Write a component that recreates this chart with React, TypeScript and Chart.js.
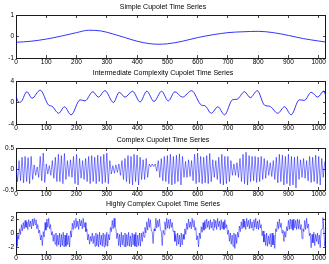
import React, { useEffect, useRef } from 'react';
import { Chart, registerables } from 'chart.js';

Chart.register(...registerables);

// ---------- shared axis values ----------
const xTicks = [0, 100, 200, 300, 400, 500, 600, 700, 800, 900, 1000];
const xMax = 1024;

// ---------- 1. Simple cupolet ----------
const simpleTitle = 'Simple Cupolet Time Series';
const simpleX = [0, 50, 100, 150, 200, 240, 280, 320, 360, 400, 440, 470, 500, 550, 600, 650, 700, 750, 800, 850, 900, 950, 1000, 1024];
const simpleY = [-0.27, -0.22, -0.12, 0.02, 0.18, 0.29, 0.26, 0.12, -0.05, -0.22, -0.33, -0.36, -0.34, -0.22, -0.05, 0.08, 0.18, 0.22, 0.24, 0.18, 0.05, -0.1, -0.21, -0.26];
const simpleYTicks = [-1, 0, 1];

// ---------- 2. Intermediate complexity ----------
const interTitle = 'Intermediate Complexity Cupolet Time Series';
const interX = [0, 6, 12, 18, 36, 53, 80, 108, 119, 141,
  160, 182, 212, 228, 254, 272, 294, 322, 341, 360,
  385, 410, 432, 456, 481, 503, 525, 550, 580, 613,
  624, 645, 667, 689, 715, 730, 755, 774, 797, 821,
  838, 865, 887, 909, 936, 953, 975, 997, 1016, 1024];
const interY = [1.2, 0.3, 0.05, 0.2, 2.0, 0.8, 2.3, -0.5, -0.7, -2.0,
  -0.8, -2.3, 0.5, 0.3, 2.0, 1.0, 2.2, 0.0, 1.9, 1.0,
  2.1, 0.1, 2.1, 0.2, 2.1, 0.3, 2.0, 1.0, 2.2, -0.5,
  -0.6, -2.0, -0.8, -2.3, 0.5, 0.6, 2.0, 0.9, 2.2, -0.5,
  -0.7, -2.0, -0.8, -2.3, 0.5, 0.4, 1.9, 1.0, 2.1, 1.3];
const interYTicks = [-4, -2, 0, 2, 4];

// ---------- 3. Complex ----------
const complexTitle = 'Complex Cupolet Time Series';
const complexStep = 5; // time units between samples
const complexY = [
  0.05, -0.3, 0.2, -0.28, 0.28, -0.33, 0.3, -0.3, 0.27, -0.35, 0.3, -0.25, 0.1, -0.15, 0.05, -0.2, 0.3, -0.28, 0.38, -0.32,
  0.12, -0.12, 0.08, -0.15, 0.2, -0.22, 0.28, -0.3, 0.35, -0.3, 0.32, -0.35, 0.37, -0.25, 0.2, -0.18, 0.22, -0.2, 0.3, -0.35,
  0.35, -0.38, 0.25, -0.22, 0.2, -0.25, 0.25, -0.3, 0.3, -0.35, 0.32, -0.3, 0.28, -0.35, 0.33, -0.3, 0.3, -0.35, 0.35, -0.32,
  0.38, -0.35, 0.2, -0.12, 0.08, -0.1, 0.1, -0.08, 0.12, -0.15, 0.2, -0.25, 0.25, -0.3, 0.32, -0.35, 0.3, -0.38, 0.35, -0.3,
  0.33, -0.38, 0.28, -0.25, 0.22, -0.25, 0.25, -0.2, 0.12, 0.05, 0.12, 0.06, 0.12, -0.05, 0.2, -0.2, 0.25, -0.28, 0.3, -0.3,
  0.32, -0.35, 0.35, -0.38, 0.3, -0.35, 0.33, -0.3, 0.36, -0.38, 0.3, -0.2, 0.18, -0.2, 0.22, -0.18, 0.2, -0.28, 0.35, -0.35,
  0.38, -0.32, 0.3, -0.35, 0.28, -0.33, 0.32, -0.35, 0.37, -0.3, 0.22, -0.2, 0.2, -0.25, 0.28, -0.35, 0.35, -0.38, 0.3, -0.35,
  0.3, -0.3, 0.2, -0.15, 0.12, -0.15, 0.15, -0.2, 0.25, -0.3, 0.35, -0.35, 0.4, -0.38, 0.32, -0.3, 0.3, -0.28, 0.3, -0.32,
  0.28, -0.3, 0.3, -0.25, 0.25, -0.22, 0.2, -0.15, 0.15, -0.18, 0.2, -0.25, 0.28, -0.33, 0.35, -0.3, 0.33, -0.38, 0.3, -0.35,
  0.35, -0.4, 0.3, -0.38, 0.28, -0.45, 0.3, -0.25, 0.22, -0.2, 0.25, -0.22, 0.2, -0.28, 0.3, -0.32, 0.28, -0.3, 0.33, -0.35,
  0.3, -0.38, 0.25, -0.2, 0.18,
];
const complexYTicks = [-0.5, 0, 0.5];

// ---------- 4. Highly complex ----------
const highTitle = 'Highly Complex Cupolet Time Series';
const highStep = 3; // time units between samples
const highY = [
  -0.5, -1.9, -0.2, -0.9, 0.6, -0.2, 1.2, 0.3, 1.5, 0.6,
  1.8, 0.8, 1.6, 0.5, 1.9, 0.9, 1.7, 0.6, 2.0, 1.0,
  2.1, 1.2, 1.9, 0.6, 1.2, 0.0, 0.4, -1.0, -0.3, -1.8,
  0.2, -0.6, 1.5, 0.4, 2.0, 0.8, 2.1, 0.6, 1.2, -0.3,
  0.2, -1.2, -0.2, -1.6, 0.0, -1.9, -0.3, -1.7, 0.0, -2.0,
  -0.2, -1.8, 0.1, -2.0, -0.3, -1.9, 0.0, -1.7, -0.4, -2.0,
  0.3, -0.6, 1.4, 0.5, 1.8, 0.7, 2.1, 0.9, 1.7, 0.5,
  2.0, 1.0, 1.8, 0.6, 2.1, 0.8, 1.5, 0.2, 0.6, -1.0,
  -0.2, -1.6, -0.5, -1.2, 0.0, -1.5, -0.4, -1.9, 0.0, -1.8,
  -0.2, -2.0, 0.1, -1.7, -0.3, -1.9, 0.0, -2.0, -0.2, -1.8,
  0.1, -1.9, -0.2, -1.0, 0.8, 0.2, 1.8, 0.6, 2.1, 0.8,
  0.6, -0.8, 0.0, -1.8, -0.2, -2.0, 0.1, -1.7, -0.3, -1.9,
  0.0, -2.0, -0.2, -1.8, 0.1, -1.9, -0.4, -2.0, 0.0, -1.7,
  -0.2, -1.9, 0.1, -2.0, -0.3, -1.8, 0.0, -1.9, 0.0, -1.2,
  0.2, -0.6, 0.8, 0.0, 1.6, 0.4, 2.1, 0.8, 1.9, 0.3,
  0.2, -1.5, 0.6, 0.3, 2.1, 0.7, 1.8, 0.9, 2.0, 0.5,
  0.2, -1.8, 0.4, -0.2, 1.6, 0.5, 2.1, 0.7, 1.9, 0.6,
  2.0, 0.8, 1.5, 0.2, 0.3, -1.2, -0.2, -1.8, 0.0, -1.6,
  -0.3, -2.0, 0.0, -1.7, -0.2, -0.9, 0.6, -0.2, 1.4, 0.5,
  2.0, 0.8, 1.6, 0.6, 2.1, 0.9, 1.8, 0.4, 0.8, -1.0,
  -0.4, -2.0, 0.0, -0.8, 0.9, 0.1, 1.5, 0.4, 1.8, 0.6,
  2.0, 0.8, 1.7, 0.5, 1.9, 0.7, 1.6, 0.4, 2.0, 0.8,
  1.8, 0.5, 2.1, 0.9, 1.7, 0.4, 1.9, 0.6, 1.6, 0.5,
  1.9, 0.7, 1.2, -0.2, 0.4, -1.2, 0.0, -1.6, -0.3, -1.9,
  0.0, -2.2, -0.2, -1.5, 0.1, -0.6, 1.0, 0.2, 1.6, 0.6,
  2.0, 0.8, 1.7, 0.5, 2.1, 0.9, 1.8, 0.6, 2.0, 0.7,
  1.6, 0.4, 1.9, 0.8, 2.1, 0.6, 1.7, 0.5, 1.9, 0.7,
  1.2, -0.4, 0.3, -1.3, -0.2, -1.8, 0.0, -1.9, -0.4, -1.6,
  -0.1, -2.0, 0.0, -1.7, -0.3, -2.2, 0.6, 0.2, 1.6, 0.6,
  2.0, 0.8, 1.4, 0.0, 0.4, -1.2, 0.2, -0.6, 0.9, 0.3,
  1.8, 0.5, 2.0, 0.6, 1.9, 0.4, 2.0, 0.7, 1.8, 0.5,
  2.0, 0.6, 1.9, 0.5, 1.2, -0.8, 0.6, 0.2, 1.8, 0.5,
  2.1, 0.7, 1.3, -0.4, 0.0, -2.1, -0.2, -1.4, 0.1, -1.8,
  -0.2, -1.2, 0.0, -1.6, -0.3, -2.1, 0.4, 0.6, 2.2, 0.5,
  -1.9, -1.0,
];
const highYTicks = [-2, 0, 2];

// ---------- layout / style (kept apart from the data) ----------
const FONT = "'Liberation Sans', Arial, Helvetica, sans-serif";
const AXIS = '#1a1a1a';
const LINE = '#0000ff';
const TITLE_H = 15; // title block height in px
const XAXIS_H = 11; // tick label band under each plot
const CANVAS_W = 329;

type PanelCfg = {
  title: string;
  xs: number[];
  ys: number[];
  yTicks: number[];
  yMin: number;
  yMax: number;
  smooth: boolean;
  lineWidth: number;
  plotTop: number;
  plotHeight: number;
};

const panels: PanelCfg[] = [
  { title: simpleTitle, xs: simpleX, ys: simpleY, yTicks: simpleYTicks, yMin: -1, yMax: 1, smooth: true, lineWidth: 0.8, plotTop: 15, plotHeight: 43 },
  { title: interTitle, xs: interX, ys: interY, yTicks: interYTicks, yMin: -4, yMax: 4, smooth: true, lineWidth: 0.8, plotTop: 81, plotHeight: 43 },
  { title: complexTitle, xs: complexY.map((_, i) => i * complexStep), ys: complexY, yTicks: complexYTicks, yMin: -0.5, yMax: 0.5, smooth: false, lineWidth: 0.5, plotTop: 148, plotHeight: 42 },
  { title: highTitle, xs: highY.map((_, i) => i * highStep), ys: highY, yTicks: highYTicks, yMin: -3, yMax: 3, smooth: false, lineWidth: 0.5, plotTop: 212, plotHeight: 42 },
];

function Panel({ cfg }: { cfg: PanelCfg }) {
  const ref = useRef<HTMLCanvasElement>(null);
  const canvasH = TITLE_H + cfg.plotHeight + XAXIS_H;

  useEffect(() => {
    const canvas = ref.current;
    if (!canvas) return;
    const tickFont = { family: FONT, size: 6.5 };
    const grid = { drawOnChartArea: false, drawTicks: true, tickLength: -3, color: AXIS, lineWidth: 0.8 };
    const border = { display: true, color: AXIS, width: 1 };
    const setX = (s: any) => { s.ticks = xTicks.map((v) => ({ value: v })); };
    const setY = (s: any) => { s.ticks = cfg.yTicks.map((v) => ({ value: v })); };

    const chart = new Chart(canvas, {
      type: 'line',
      data: {
        datasets: [
          {
            data: cfg.xs.map((x, i) => ({ x, y: cfg.ys[i] })),
            borderColor: LINE,
            borderWidth: cfg.lineWidth,
            pointRadius: 0,
            fill: false,
            tension: 0,
            cubicInterpolationMode: cfg.smooth ? 'monotone' : 'default',
          } as any,
        ],
      },
      options: {
        responsive: false,
        animation: false,
        events: [],
        layout: { padding: { left: 0, right: 3, top: 0, bottom: 0 } },
        plugins: {
          legend: { display: false },
          tooltip: { enabled: false },
          title: {
            display: true,
            text: cfg.title,
            color: '#000',
            font: { family: FONT, size: 7, weight: 'normal', lineHeight: 1 },
            padding: { top: 4, bottom: 4 },
          },
        },
        scales: {
          x: {
            type: 'linear',
            position: 'bottom',
            min: 0,
            max: xMax,
            afterBuildTicks: setX,
            afterFit: (s: any) => { s.height = XAXIS_H; },
            grid,
            border,
            ticks: { color: '#000', font: tickFont, padding: 3, maxRotation: 0, autoSkip: false, callback: (v: any) => String(v) },
          },
          x2: {
            type: 'linear',
            position: 'top',
            min: 0,
            max: xMax,
            afterBuildTicks: setX,
            afterFit: (s: any) => { s.height = 0; },
            grid,
            border,
            ticks: { display: false },
          },
          y: {
            type: 'linear',
            position: 'left',
            min: cfg.yMin,
            max: cfg.yMax,
            afterBuildTicks: setY,
            afterFit: (s: any) => { s.width = 16; },
            grid,
            border,
            ticks: { color: '#000', font: tickFont, padding: 5, callback: (v: any) => String(v) },
          },
          y2: {
            type: 'linear',
            position: 'right',
            min: cfg.yMin,
            max: cfg.yMax,
            afterBuildTicks: setY,
            afterFit: (s: any) => { s.width = 0; },
            grid,
            border,
            ticks: { display: false },
          },
        } as any,
      },
    });
    return () => chart.destroy();
  }, [cfg]);

  return (
    <canvas
      ref={ref}
      width={CANVAS_W}
      height={canvasH}
      style={{ position: 'absolute', left: 0, top: cfg.plotTop - TITLE_H, width: CANVAS_W, height: canvasH }}
    />
  );
}

export default function App() {
  return (
    <div style={{ position: 'absolute', left: 0, top: 0, width: 329, height: 264, background: '#fff' }}>
      {panels.map((p) => (
        <Panel key={p.title} cfg={p} />
      ))}
    </div>
  );
}
